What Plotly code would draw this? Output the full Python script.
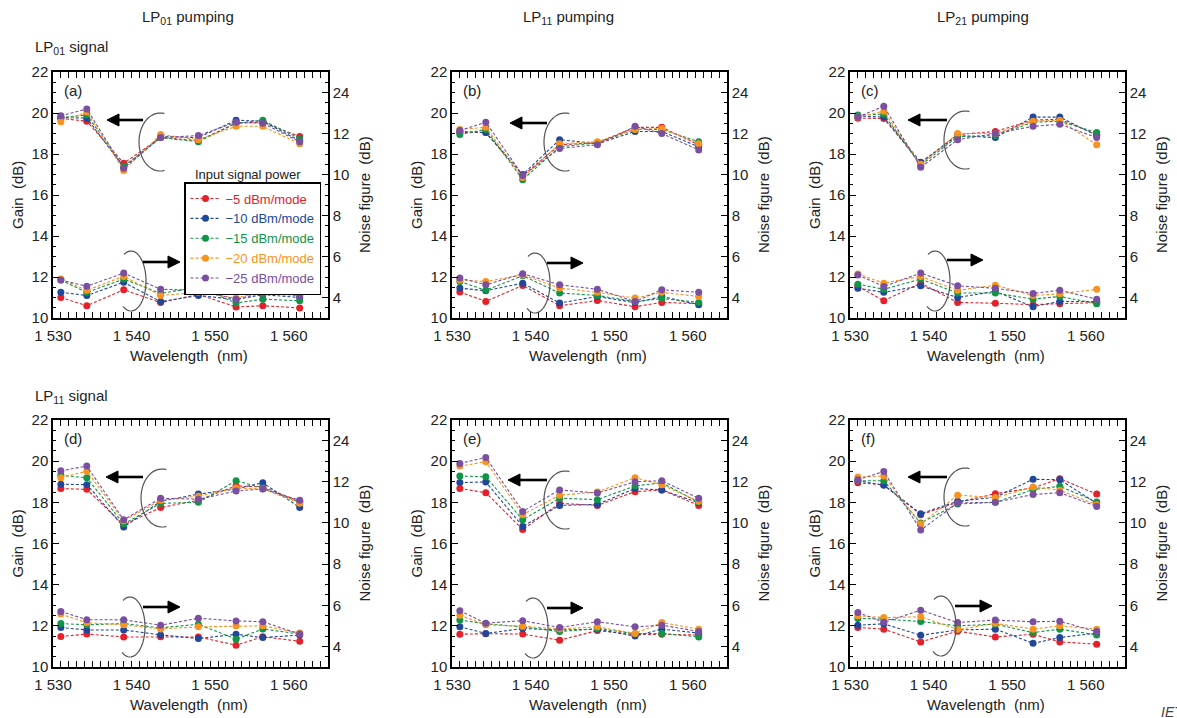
import numpy as np
import plotly.graph_objects as go

W, H = 1177, 718

# ---------------------------------------------------------------- data
wavelength_nm = [1531.0, 1534.3, 1539.0, 1543.7, 1548.5, 1553.3, 1556.7, 1561.4]

power_labels = ["−5 dBm/mode", "−10 dBm/mode", "−15 dBm/mode",
                "−20 dBm/mode", "−25 dBm/mode"]
power_colors = ["#e4202a", "#21479b", "#129447", "#f7931e", "#7a4ea0"]

# rows follow power_labels order: -5, -10, -15, -20, -25 dBm/mode
gain_a = [[19.73, 19.60, 17.55, 18.80, 18.65, 19.50, 19.55, 18.85],
          [19.78, 19.75, 17.35, 18.85, 18.80, 19.65, 19.60, 18.65],
          [19.78, 19.90, 17.40, 18.80, 18.60, 19.50, 19.65, 18.75],
          [19.57, 20.05, 17.20, 18.95, 18.70, 19.35, 19.35, 18.50],
          [19.86, 20.20, 17.30, 18.80, 18.90, 19.55, 19.50, 18.60]]
nf_a = [[4.00, 3.60, 4.38, 3.75, 4.15, 3.54, 3.60, 3.49],
        [4.25, 4.10, 4.74, 3.80, 4.10, 3.90, 4.14, 4.00],
        [4.85, 4.25, 4.90, 4.20, 4.50, 3.73, 3.92, 3.84],
        [4.90, 4.35, 5.03, 4.10, 4.25, 3.97, 4.30, 4.18],
        [4.85, 4.55, 5.19, 4.40, 4.35, 3.92, 4.22, 4.09]]

gain_b = [[19.05, 19.05, 16.95, 18.45, 18.55, 19.30, 19.30, 18.45],
          [19.10, 19.05, 17.00, 18.70, 18.50, 19.10, 19.10, 18.35],
          [18.95, 19.20, 16.75, 18.35, 18.55, 19.20, 19.20, 18.60],
          [19.20, 19.30, 16.85, 18.50, 18.60, 19.20, 19.25, 18.50],
          [19.15, 19.55, 16.95, 18.27, 18.45, 19.35, 19.00, 18.20]]
nf_b = [[4.27, 3.81, 4.59, 3.60, 3.85, 3.55, 3.76, 3.70],
        [4.46, 4.33, 4.70, 3.73, 4.05, 3.75, 4.05, 3.65],
        [4.78, 4.35, 5.06, 4.22, 4.10, 3.80, 3.95, 3.76],
        [4.85, 4.78, 5.10, 4.46, 4.25, 3.97, 4.25, 4.05],
        [4.95, 4.62, 5.16, 4.62, 4.40, 3.80, 4.38, 4.25]]

gain_c = [[19.75, 19.73, 17.55, 18.95, 19.10, 19.65, 19.70, 18.95],
          [19.85, 19.80, 17.60, 18.90, 18.80, 19.80, 19.80, 18.90],
          [19.90, 19.94, 17.45, 18.85, 18.90, 19.55, 19.60, 19.05],
          [19.80, 20.09, 17.50, 19.00, 19.00, 19.60, 19.65, 18.45],
          [19.80, 20.33, 17.35, 18.70, 19.00, 19.35, 19.45, 18.80]]
nf_c = [[4.55, 3.84, 4.70, 3.76, 3.72, 3.65, 3.70, 3.75],
        [4.45, 4.25, 4.57, 4.00, 4.30, 3.55, 3.81, 3.80],
        [4.65, 4.40, 4.90, 4.22, 4.22, 3.92, 4.05, 3.70],
        [5.15, 4.70, 5.03, 4.35, 4.60, 4.10, 4.18, 4.40],
        [5.10, 4.54, 5.19, 4.57, 4.45, 4.20, 4.35, 3.92]]

gain_d = [[18.67, 18.63, 16.90, 17.75, 18.10, 18.80, 18.75, 18.05],
          [18.88, 18.86, 16.80, 18.05, 18.40, 18.65, 18.95, 17.75],
          [19.32, 19.19, 16.95, 17.95, 18.00, 19.05, 18.70, 18.00],
          [19.20, 19.51, 17.10, 18.10, 18.30, 18.70, 18.65, 17.95],
          [19.53, 19.76, 17.15, 18.20, 18.15, 18.55, 18.65, 18.10]]
nf_d = [[4.48, 4.60, 4.46, 4.47, 4.46, 4.06, 4.47, 4.25],
        [4.92, 4.80, 4.80, 4.56, 4.38, 4.59, 4.43, 4.55],
        [5.11, 5.05, 5.11, 4.90, 5.08, 4.35, 4.85, 4.60],
        [5.57, 5.15, 5.05, 4.85, 4.95, 5.00, 5.00, 4.65],
        [5.70, 5.30, 5.29, 5.03, 5.37, 5.24, 5.20, 4.60]]

gain_e = [[18.67, 18.47, 16.68, 17.95, 17.85, 18.52, 18.60, 17.85],
          [18.96, 18.99, 16.83, 17.85, 17.90, 18.67, 18.60, 17.98],
          [19.28, 19.24, 17.15, 18.20, 18.13, 18.80, 18.95, 18.00],
          [19.76, 19.97, 17.40, 18.35, 18.50, 19.20, 18.85, 18.05],
          [19.89, 20.18, 17.56, 18.60, 18.45, 19.00, 19.05, 18.20]]
nf_e = [[4.59, 4.62, 4.60, 4.30, 4.77, 4.58, 4.59, 4.55],
        [4.95, 4.63, 4.87, 4.80, 4.83, 4.50, 4.84, 4.65],
        [5.28, 5.10, 4.95, 4.72, 4.87, 4.62, 4.63, 4.46],
        [5.52, 5.05, 4.98, 4.85, 4.95, 4.63, 5.16, 4.84],
        [5.73, 5.13, 5.25, 4.92, 5.20, 4.95, 5.03, 4.73]]

gain_f = [[18.95, 18.85, 17.40, 18.00, 18.42, 18.70, 19.15, 18.40],
          [19.05, 18.83, 17.45, 18.05, 18.25, 19.12, 19.10, 17.95],
          [19.05, 19.05, 17.00, 17.92, 18.00, 18.62, 18.78, 18.02],
          [19.23, 19.28, 16.95, 18.35, 18.23, 18.75, 18.59, 17.88],
          [19.10, 19.50, 16.65, 17.97, 18.00, 18.38, 18.47, 17.80]]
nf_f = [[4.92, 4.84, 4.22, 4.74, 4.46, 4.59, 4.22, 4.11],
        [5.03, 5.10, 4.54, 4.80, 4.84, 4.15, 4.43, 4.65],
        [5.36, 5.33, 5.21, 5.00, 5.08, 4.67, 4.84, 4.56],
        [5.49, 5.40, 5.44, 4.82, 5.12, 4.84, 5.00, 4.84],
        [5.65, 5.17, 5.76, 5.16, 5.28, 5.20, 5.22, 4.72]]

panel_tags = ["(a)", "(b)", "(c)", "(d)", "(e)", "(f)"]
pump_titles = ["LP<sub>01</sub> pumping", "LP<sub>11</sub> pumping", "LP<sub>21</sub> pumping"]
signal_titles = ["LP<sub>01</sub> signal", "LP<sub>11</sub> signal"]

x_tickvals = [1530, 1540, 1550, 1560]
x_ticktext = ["1 530", "1 540", "1 550", "1 560"]
gain_tickvals = [10, 12, 14, 16, 18, 20, 22]
nf_tickvals = [4, 6, 8, 10, 12, 14]
nf_ticktext = ["4", "6", "8", "10", "12", "24"]

gain_sets = [gain_a, gain_b, gain_c, gain_d, gain_e, gain_f]
nf_sets = [nf_a, nf_b, nf_c, nf_d, nf_e, nf_f]

# ---------------------------------------------------------------- layout geometry (pixels)
col_px = [(53, 328), (452, 727), (850, 1125)]
row_px = [(72, 318), (420, 667)]

# decoration anchors relative to each panel's top-left corner (px)
gain_loop = [(107, 70), (113, 70), (115, 68), (109, 78), (113, 80), (115, 77)]
nf_loop = [(78, 209), (83, 211), (85, 209), (77, 207), (81, 208), (91, 206)]
gain_arrow = [((90, 48), (54, 48)), ((95, 51), (58, 51)), ((97, 48), (58, 48)),
              ((90, 57), (53, 57)), ((95, 60), (56, 60)), ((97, 57), (58, 57))]
nf_arrow = [((90, 190), (127, 190)), ((95, 191), (131, 191)), ((97, 188), (133, 188)),
            ((90, 187), (127, 187)), ((95, 188), (131, 188)), ((105, 186), (142, 186))]

FONT = "Liberation Sans, Arial, Helvetica, sans-serif"
TXT = "#222222"


def px(x):
    return x / W


def py(y):
    return 1 - y / H


def arc_path(cx, cy, rx, ry, a0, a1, n=40):
    t = np.radians(np.linspace(a0, a1, n))
    xs = cx + rx * np.cos(t)
    ys = cy - ry * np.sin(t)
    pts = [f"{px(x):.5f},{py(y):.5f}" for x, y in zip(xs, ys)]
    return "M " + " L ".join(pts)


def arrow_shapes(tail, head, head_len=12, half_w=6):
    """Shaft plus filled triangular head, horizontal arrows."""
    d = 1 if head[0] > tail[0] else -1
    base_x = head[0] - d * head_len
    shaft = dict(type="line", xref="paper", yref="paper",
                 x0=px(tail[0]), y0=py(tail[1]), x1=px(base_x), y1=py(head[1]),
                 line=dict(color="black", width=2.6))
    tri = dict(type="path", xref="paper", yref="paper",
               path=(f"M {px(head[0]):.5f},{py(head[1]):.5f} "
                     f"L {px(base_x):.5f},{py(head[1] - half_w):.5f} "
                     f"L {px(base_x):.5f},{py(head[1] + half_w):.5f} Z"),
               fillcolor="black", line=dict(color="black", width=1))
    return [shaft, tri]


fig = go.Figure()
layout = dict(
    width=W, height=H, margin=dict(l=0, r=0, t=0, b=0, autoexpand=False),
    plot_bgcolor="white", paper_bgcolor="white",
    font=dict(family=FONT, size=15, color=TXT),
    showlegend=True,
    legend=dict(x=px(184), y=py(182), xanchor="left", yanchor="top",
                bordercolor="black", borderwidth=1.5, bgcolor="white",
                font=dict(size=13, family=FONT), itemwidth=30,
                tracegroupgap=0, traceorder="normal"),
)
annotations = []
shapes = []

axis_common = dict(showline=True, linecolor="black", linewidth=1.5,
                   ticks="inside", ticklen=6, tickwidth=1.3, tickcolor="black",
                   showgrid=False, zeroline=False, automargin=False,
                   tickfont=dict(size=15, family=FONT, color=TXT))

for i in range(6):
    r, c = divmod(i, 3)
    xl, xr = col_px[c]
    yt, yb = row_px[r]
    xi = i + 1
    gi = 2 * i + 1
    ni = 2 * i + 2
    xname = "x" if xi == 1 else f"x{xi}"
    gname = "y" if gi == 1 else f"y{gi}"
    nname = f"y{ni}"

    layout["xaxis" if xi == 1 else f"xaxis{xi}"] = dict(
        axis_common, domain=[px(xl), px(xr)], anchor=gname,
        range=[1530, 1565], tickmode="array", tickvals=x_tickvals,
        ticktext=x_ticktext, mirror="allticks", ticklabelstandoff=3,
        minor=dict(ticks="inside", dtick=1, tick0=1530, ticklen=3,
                   tickwidth=1, tickcolor="black"))
    layout["yaxis" if gi == 1 else f"yaxis{gi}"] = dict(
        axis_common, domain=[py(yb), py(yt)], anchor=xname, side="left",
        range=[10, 22], tickmode="array", tickvals=gain_tickvals,
        minor=dict(ticks="inside", dtick=0.5, tick0=10, ticklen=3,
                   tickwidth=1, tickcolor="black"))
    layout[f"yaxis{ni}"] = dict(
        axis_common, overlaying=gname, anchor=xname, side="right",
        range=[3, 15], tickmode="array", tickvals=nf_tickvals,
        ticktext=nf_ticktext,
        minor=dict(ticks="inside", dtick=0.5, tick0=3, ticklen=3,
                   tickwidth=1, tickcolor="black"))

    for k in range(5):
        col = power_colors[k]
        fig.add_trace(go.Scatter(
            x=wavelength_nm, y=gain_sets[i][k], xaxis=xname, yaxis=gname,
            mode="lines+markers",
            name=f'<span style="color:{col}">{power_labels[k]}</span>',
            line=dict(color=col, width=1.1, dash="3px,2px"),
            marker=dict(color=col, size=7, line=dict(width=0)),
            showlegend=(i == 0), legendgroup=power_labels[k]))
        fig.add_trace(go.Scatter(
            x=wavelength_nm, y=nf_sets[i][k], xaxis=xname, yaxis=nname,
            mode="lines+markers", name=power_labels[k],
            line=dict(color=col, width=1.1, dash="3px,2px"),
            marker=dict(color=col, size=7, line=dict(width=0)),
            showlegend=False, legendgroup=power_labels[k]))

    # panel tag
    annotations.append(dict(text=panel_tags[i], x=px(xl + 9), y=py(yt + 18),
                            xref="paper", yref="paper", xanchor="left",
                            yanchor="middle", showarrow=False,
                            font=dict(size=15, color=TXT)))
    # axis titles
    annotations.append(dict(text="Gain\u00a0 (dB)", x=px(xl - 36),
                            y=py((yt + yb) / 2), xref="paper", yref="paper",
                            textangle=-90, showarrow=False,
                            xanchor="center", yanchor="middle",
                            font=dict(size=15, color=TXT)))
    annotations.append(dict(text="Noise figure\u00a0 (dB)", x=px(xr + 36),
                            y=py((yt + yb) / 2), xref="paper", yref="paper",
                            textangle=-90, showarrow=False,
                            xanchor="center", yanchor="middle",
                            font=dict(size=15, color=TXT)))
    annotations.append(dict(text="Wavelength\u00a0 (nm)", x=px((xl + xr) / 2 - 2),
                            y=py(yb + 37), xref="paper", yref="paper",
                            showarrow=False, xanchor="center", yanchor="middle",
                            font=dict(size=15, color=TXT)))

    # loops marking which curves belong to which axis
    gx, gy = gain_loop[i]
    shapes.append(dict(type="path", xref="paper", yref="paper",
                       path=arc_path(xl + gx, yt + gy, 21, 29, 78, 282),
                       line=dict(color="#555555", width=1.2)))
    nx, ny = nf_loop[i]
    shapes.append(dict(type="path", xref="paper", yref="paper",
                       path=arc_path(xl + nx, yt + ny, 15, 30, 118, -122),
                       line=dict(color="#555555", width=1.2)))
    for (tail, head) in (gain_arrow[i], nf_arrow[i]):
        shapes.extend(arrow_shapes((xl + tail[0], yt + tail[1]),
                                   (xl + head[0], yt + head[1])))

# column and row headings
pump_x = [188, 568, 983]
for c in range(3):
    annotations.append(dict(text=pump_titles[c], x=px(pump_x[c]), y=py(18),
                            xref="paper", yref="paper", showarrow=False,
                            xanchor="center", yanchor="middle",
                            font=dict(size=15, color=TXT)))
signal_y = [48, 396]
for r in range(2):
    annotations.append(dict(text=signal_titles[r], x=px(33), y=py(signal_y[r]),
                            xref="paper", yref="paper", showarrow=False,
                            xanchor="left", yanchor="middle",
                            font=dict(size=15, color=TXT)))

# legend heading sits above the legend frame
annotations.append(dict(text="Input signal power", x=px(248), y=py(174),
                        xref="paper", yref="paper", showarrow=False,
                        xanchor="center", yanchor="middle",
                        font=dict(size=13, color=TXT)))

# source mark in the lower-right corner
annotations.append(dict(text="<i>IET</i>", x=px(1159), y=py(712),
                        xref="paper", yref="paper", showarrow=False,
                        xanchor="left", yanchor="middle",
                        font=dict(size=14, color="#444444")))

layout["annotations"] = annotations
layout["shapes"] = shapes
fig.update_layout(**layout)

fig.write_html("out.html")
